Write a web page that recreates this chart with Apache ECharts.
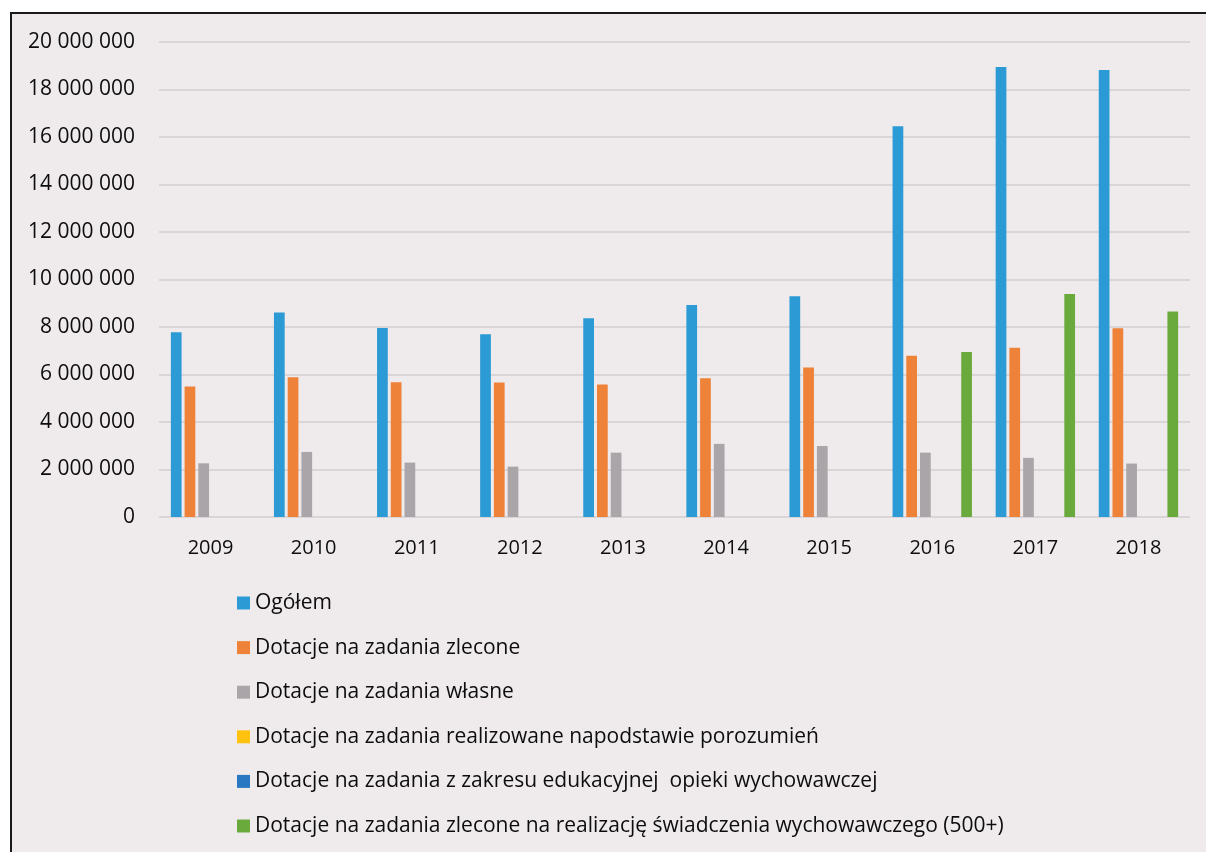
<!DOCTYPE html>
<html>
<head>
<meta charset="utf-8">
<script src="https://cdn.jsdelivr.net/npm/echarts@6/dist/echarts.min.js"></script>
<style>
  html, body { margin: 0; padding: 0; background: #ffffff; }
  #chart { width: 1206px; height: 852px; }
</style>
</head>
<body>
<div id="chart"></div>
<script>
const categories = ['2009', '2010', '2011', '2012', '2013', '2014', '2015', '2016', '2017', '2018'];
const seriesNames = [
  'Ogółem',
  'Dotacje na zadania zlecone',
  'Dotacje na zadania własne',
  'Dotacje na zadania realizowane napodstawie porozumień',
  'Dotacje na zadania z zakresu edukacyjnej  opieki wychowawczej',
  'Dotacje na zadania zlecone na realizację świadczenia wychowawczego (500+)'
];
const ogolem      = [7780000, 8610000, 7960000, 7700000, 8370000, 8930000, 9300000, 16450000, 18950000, 18820000];
const zlecone     = [5500000, 5880000, 5670000, 5660000, 5580000, 5840000, 6290000, 6790000, 7130000, 7950000];
const wlasne      = [2260000, 2740000, 2290000, 2120000, 2710000, 3080000, 2990000, 2710000, 2490000, 2250000];
const porozumien  = [0, 0, 0, 0, 0, 0, 0, 0, 0, 0];
const edukacyjnej = [0, 0, 0, 0, 0, 0, 0, 0, 0, 0];
const swiadczenie = [0, 0, 0, 0, 0, 0, 0, 6950000, 9390000, 8650000];
const yTicks = [0, 2000000, 4000000, 6000000, 8000000, 10000000, 12000000, 14000000, 16000000, 18000000, 20000000];

const colors = ['#2c9ad5', '#ee8238', '#aaa5a8', '#ffc20e', '#2a78c2', '#6aaa3c'];
const seriesData = [ogolem, zlecone, wlasne, porozumien, edukacyjnej, swiadczenie];

function fmt(v) {
  return String(Math.round(v)).replace(/\B(?=(\d{3})+(?!\d))/g, ' ');
}

const chart = echarts.init(document.getElementById('chart'), null, { renderer: 'canvas' });
const font = '"Open Sans", "Noto Sans", sans-serif';

const option = {
  animation: false,
  color: colors,
  textStyle: { fontFamily: font },
  graphic: [
    { type: 'rect', z: -10, silent: true,
      shape: { x: 10, y: 12, width: 1196, height: 840 },
      style: { fill: '#efebed' } },
    { type: 'polyline', z: -9, silent: true,
      shape: { points: [[11, 852], [11, 13], [1206, 13]] },
      style: { stroke: '#1a1a1a', lineWidth: 2, fill: null } }
  ],
  grid: { left: 159, right: 16, top: 42, bottom: 335, containLabel: false },
  legend: {
    orient: 'vertical',
    left: 232,
    top: 587,
    padding: [5, 5, 5, 5],
    itemWidth: 13,
    itemHeight: 13,
    itemGap: 22.6,
    icon: 'rect',
    data: seriesNames,
    textStyle: { fontFamily: font, fontSize: 21, color: '#0d0d0d', lineHeight: 22, padding: [0, 0, 0, 0] }
  },
  xAxis: {
    type: 'category',
    data: categories,
    axisLine: { show: false },
    axisTick: { show: false },
    axisLabel: { fontFamily: font, fontSize: 20, color: '#0d0d0d', margin: 21 }
  },
  yAxis: {
    type: 'value',
    min: yTicks[0],
    max: yTicks[yTicks.length - 1],
    interval: yTicks[1] - yTicks[0],
    axisLine: { show: false },
    axisTick: { show: false },
    splitLine: { lineStyle: { color: '#d3cfd1', width: 1.5 } },
    axisLabel: { fontFamily: font, fontSize: 21, color: '#0d0d0d', margin: 24, formatter: fmt }
  },
  series: seriesNames.map((name, i) => ({
    name: name,
    type: 'bar',
    data: seriesData[i],
    barGap: '28%',
    barCategoryGap: '23%',
    itemStyle: { color: colors[i] }
  }))
};
chart.setOption(option);
</script>
</body>
</html>
